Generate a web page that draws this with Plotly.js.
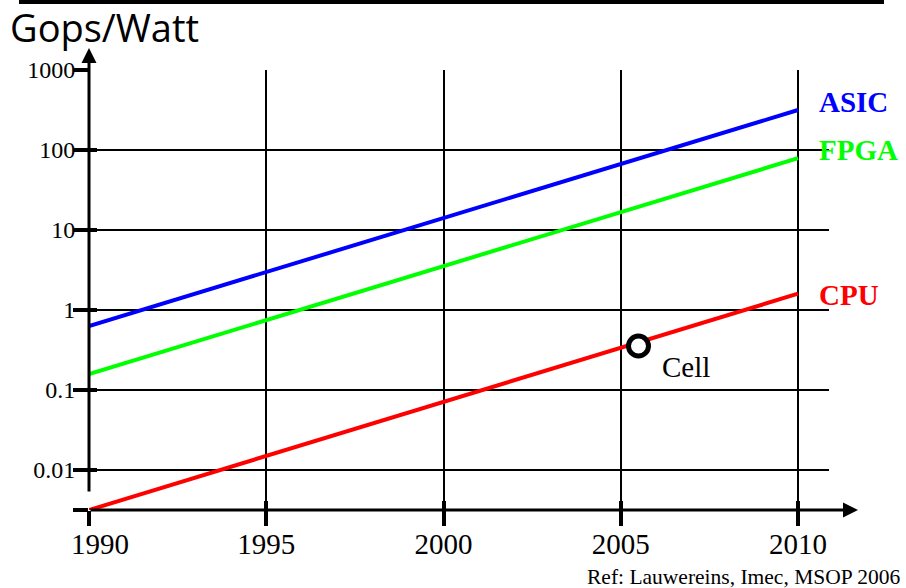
<!DOCTYPE html>
<html>
<head>
<meta charset="utf-8">
<script src="https://cdn.plot.ly/plotly-3.0.1.min.js"></script>
<style>html,body{margin:0;padding:0;background:#fff;}#chart{width:906px;height:588px;}</style>
</head>
<body>
<div id="chart"></div>
<script>
// ---- data ----
const tickYears = [1990, 1995, 2000, 2005, 2010];
const tickYearText = ['\u00a0\u00a0\u00a01990', '1995', '2000', '2005', '2010'];
const lineYears = [1990, 2010];
const asic = [0.63, 316];
const fpga = [0.158, 79];
const cpu = [0.00316, 1.6];
const cellYear = [2005.5];
const cellValue = [0.355];
const yTickVals = [0.0031623, 0.01, 0.1, 1, 10, 100, 1000];
const yTickText = ['', '0.01', '0.1', '1', '10', '100', '1000'];
const seriesNames = ['ASIC', 'FPGA', 'CPU'];
const seriesColors = ['#0000ff', '#00ff00', '#ff0000'];
const labelYears = [2010.54, 2010.54, 2010.54];
const labelLogValues = [2.6, 2.0, 0.19];
const cellLabel = 'Cell';
const refText = 'Ref: Lauwereins, Imec, MSOP 2006';
const yTitle = 'Gops/Watt';

const serif = 'Liberation Serif';
const seriesValues = [asic, fpga, cpu];

const traces = seriesValues.map((vals, i) => ({
  type: 'scatter', mode: 'lines', x: lineYears, y: vals, name: seriesNames[i],
  line: {color: seriesColors[i], width: 4}, cliponaxis: false, hoverinfo: 'skip'
}));
traces.push({
  type: 'scatter', mode: 'markers', x: cellYear, y: cellValue, name: cellLabel,
  marker: {symbol: 'circle', size: 20, color: '#ffffff', line: {color: '#000000', width: 5}},
  cliponaxis: false
});
traces.push({type: 'scatter', x: [], y: [], xaxis: 'x2', yaxis: 'y2', showlegend: false});

const xRange = [1990, 2010.874];
const yRange = [-2.5, 3];

const annotations = seriesNames.map((n, i) => ({
  text: n, x: labelYears[i], y: labelLogValues[i], xref: 'x', yref: 'y',
  xanchor: 'left', yanchor: 'middle', showarrow: false,
  font: {family: serif, size: 29, color: seriesColors[i], weight: 'bold'}
}));
annotations.push({
  text: cellLabel, x: 2006.1, y: -0.71, xref: 'x', yref: 'y', xanchor: 'left', yanchor: 'middle',
  showarrow: false, font: {family: serif, size: 29, color: '#000'}
});
annotations.push({
  text: refText, x: 1.1, y: -0.152, xref: 'paper', yref: 'paper', xanchor: 'right', yanchor: 'middle',
  showarrow: false, font: {family: serif, size: 21.5, color: '#000'}
});
// y axis line with arrow
annotations.push({
  text: '', x: 1990, y: 1.05, xref: 'x', yref: 'paper', ax: 0, ay: 445, axref: 'pixel', ayref: 'pixel',
  showarrow: true, arrowhead: 2, arrowsize: 1, arrowwidth: 3, arrowcolor: '#000', standoff: 0, startstandoff: 0
});
// x axis line with arrow
annotations.push({
  text: '', x: 1.0392, y: 0, xref: 'paper', yref: 'paper', ax: -769, ay: 0, axref: 'pixel', ayref: 'pixel',
  showarrow: true, arrowhead: 2, arrowsize: 1, arrowwidth: 3, arrowcolor: '#000', standoff: 0, startstandoff: 0
});

const layout = {
  width: 906, height: 588,
  margin: {l: 89, r: 77, t: 70, b: 78, pad: 0},
  paper_bgcolor: '#fff', plot_bgcolor: '#fff',
  font: {family: serif, color: '#000'},
  showlegend: false,
  title: {text: yTitle, x: 10/906, xref: 'container', xanchor: 'left', y: 0.952, yref: 'container', yanchor: 'middle',
          font: {family: 'Open Sans', size: 38, color: '#000'}},
  xaxis: {
    range: xRange, type: 'linear', tickmode: 'array', tickvals: tickYears, ticktext: tickYearText,
    ticks: 'outside', ticklen: 15, tickwidth: 4, tickcolor: '#000',
    showgrid: true, gridcolor: '#000', gridwidth: 2, zeroline: false, showline: false,
    tickfont: {family: serif, size: 29, color: '#000'}, ticklabelstandoff: -7, fixedrange: true
  },
  xaxis2: {
    range: xRange, overlaying: 'x', anchor: 'y', side: 'bottom', tickmode: 'array', tickvals: tickYears,
    ticks: 'inside', ticklen: 9, tickwidth: 4, tickcolor: '#000', showticklabels: false,
    showgrid: false, zeroline: false, showline: false
  },
  yaxis: {
    type: 'log', range: yRange, tickmode: 'array', tickvals: yTickVals, ticktext: yTickText,
    ticks: 'outside', ticklen: 15, tickwidth: 4, tickcolor: '#000',
    showgrid: true, gridcolor: '#000', gridwidth: 2, zeroline: false, showline: false,
    tickfont: {family: serif, size: 24, color: '#000'}, ticklabelstandoff: -7, fixedrange: true
  },
  yaxis2: {
    type: 'log', range: yRange, overlaying: 'y', anchor: 'x', side: 'left', tickmode: 'array', tickvals: yTickVals,
    ticks: 'inside', ticklen: 8, tickwidth: 4, tickcolor: '#000', showticklabels: false,
    showgrid: false, zeroline: false, showline: false
  },
  shapes: [
    {type: 'rect', xref: 'paper', yref: 'paper', x0: -0.01, x1: 1.01, y0: 9/440, y1: 17/440,
     fillcolor: '#fff', line: {width: 0}, layer: 'between'},
    {type: 'rect', xref: 'paper', yref: 'paper', x0: -70/740, x1: 795/740, y0: 510/440, y1: 506/440,
     fillcolor: '#000', line: {width: 0}, layer: 'above'}
  ],
  annotations: annotations
};

Plotly.newPlot('chart', traces, layout, {displayModeBar: false, staticPlot: true});
</script>
</body>
</html>
